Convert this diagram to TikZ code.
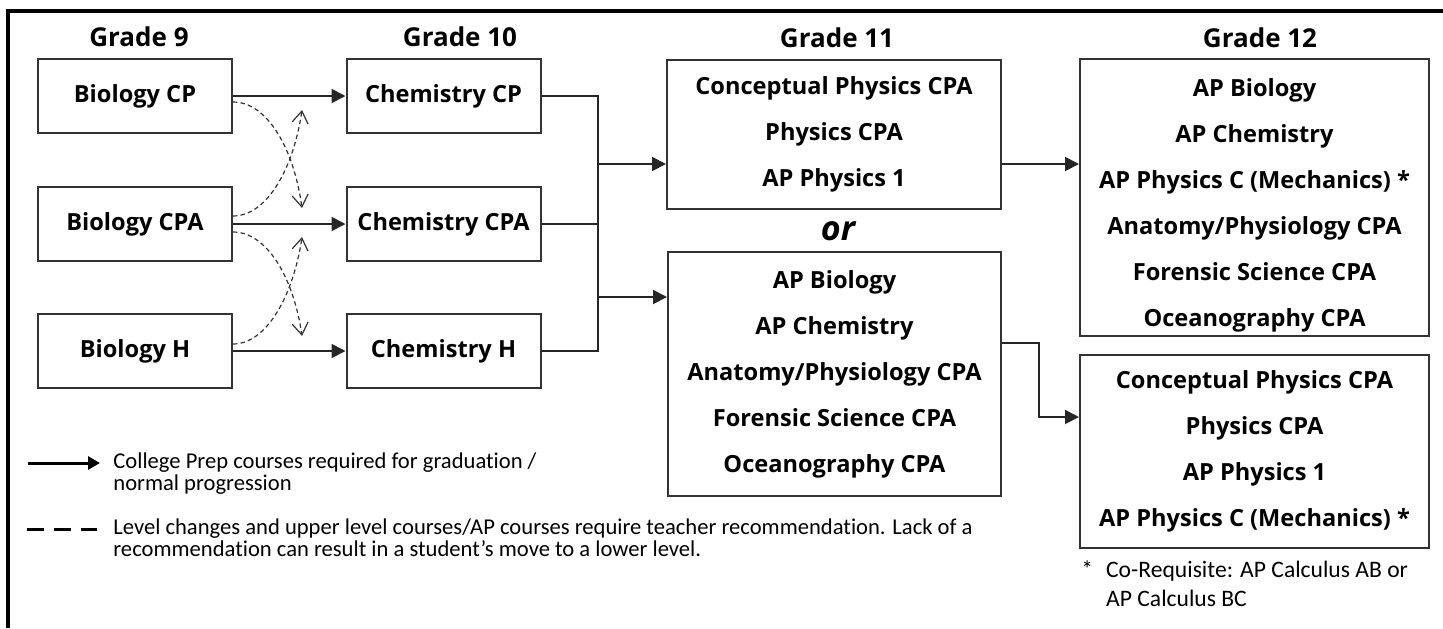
\documentclass[tikz,border=0pt]{standalone}
\usepackage{fontspec}
\setmainfont{Open Sans}
\newfontfamily\legendfont{Carlito}[Ligatures=NoCommon]
\usetikzlibrary{arrows.meta}

\begin{document}
\begin{tikzpicture}[x=0.5pt,y=-0.5pt,
	course/.style={draw=black!80,line width=1pt,align=center,inner sep=0pt,
		font=\bfseries\fontsize{11.8}{23}\selectfont},
	small course/.style={course,minimum width=97pt,minimum height=37pt},
	grade/.style={font=\bfseries\fontsize{13}{15}\selectfont},
	arr/.style={draw=black!85,line width=0.9pt,-{Triangle[length=7pt,width=7pt]}},
	link/.style={draw=black!85,line width=0.9pt},
	dasharr/.style={draw=black!80,line width=0.6pt,dash pattern=on 2.2pt off 1.6pt,
		-{Straight Barb[length=6pt,width=8pt]}},
	legend/.style={font=\legendfont\fontsize{11.3}{11}\selectfont,align=left,anchor=west,inner sep=0pt}]

\useasboundingbox (0,0) rectangle (1443,628);
\draw[line width=2pt] (8,628) -- (8,11) -- (1443,11);

% grade headings
\node[grade] (g9) at (139,37) {Grade 9};
\node[grade] (g10) at (460,37) {Grade 10};
\node[grade] (g11) at (837,38) {Grade 11};
\node[grade] (g12) at (1260,38) {Grade 12};

% grade 9 and 10
\node[small course] (bcp) at (135,96) {Biology CP};
\node[small course] (bcpa) at (135,224) {Biology CPA};
\node[small course] (bh) at (135,351) {Biology H};
\node[small course] (ccp) at (443.5,96) {Chemistry CP};
\node[small course] (ccpa) at (443.5,224) {Chemistry CPA};
\node[small course] (ch) at (443.5,351) {Chemistry H};

% grade 11
\node[course,minimum width=167pt,minimum height=74.5pt] (g11a) at (834,134.5)
	{Conceptual Physics CPA\\Physics CPA\\AP Physics 1};
\node[font=\bfseries\itshape\fontsize{17}{19}\selectfont] (or) at (838,231) {or};
\node[course,minimum width=166.5pt,minimum height=122pt] (g11b) at (834.5,374)
	{AP Biology\\AP Chemistry\\Anatomy/Physiology CPA\\Forensic Science CPA\\Oceanography CPA};

% grade 12
\node[course,minimum width=174.5pt,minimum height=138.5pt] (g12a) at (1254.5,197.5) {};
\node[course,draw=none] (g12atext) at (1254.5,205)
	{AP Biology\\AP Chemistry\\AP Physics C (Mechanics) *\\Anatomy/Physiology CPA\\Forensic Science CPA\\Oceanography CPA};
\node[course,minimum width=174.5pt,minimum height=96.5pt] (g12b) at (1254.5,451.5)
	{Conceptual Physics CPA\\Physics CPA\\AP Physics 1\\AP Physics C (Mechanics) *};

% normal progression
\draw[arr] (bcp) -- (ccp);
\draw[arr] (bcpa) -- (ccpa);
\draw[arr] (bh) -- (ch);

\coordinate (bus) at (598,96);
\coordinate (ja) at (598,164);
\coordinate (jb) at (598,297);
\draw[link] (ccp.east) -- (bus) |- (ch.east);
\draw[link] (ccpa.east) -- (ccpa.east -| bus);
\draw[arr] (ja) -- (ja -| g11a.west);
\draw[arr] (jb) -- (jb -| g11b.west);
\draw[arr] (g11a.east |- ja) -- (g12a.west |- ja);

\coordinate (kb) at (1039,343);
\coordinate (kc) at (1039,417);
\draw[arr] (g11b.east |- kb) -- (kb) -- (kc) -- (kc -| g12b.west);

% level changes
\coordinate (d1) at (302,208);
\coordinate (d2) at (302,110);
\coordinate (d3) at (302,336);
\coordinate (d4) at (302,237);
\draw[dasharr] ([yshift=-3pt]bcp.east) .. controls (268,102) and (294,150) .. (d1);
\draw[dasharr] ([yshift=4pt]bcpa.east) .. controls (268,216) and (294,166) .. (d2);
\draw[dasharr] ([yshift=-4pt]bcpa.east) .. controls (268,232) and (294,280) .. (d3);
\draw[dasharr] ([yshift=3.5pt]bh.east) .. controls (268,344) and (294,292) .. (d4);

% legend
\coordinate (ls1) at (28,463);
\coordinate (ls2) at (100,463);
\coordinate (ld1) at (27,529);
\coordinate (ld2) at (97,529);
\draw[line width=1.5pt,-{Triangle[length=6pt,width=6.5pt]}] (ls1) -- (ls2);
\draw[line width=1.5pt,dash pattern=on 8.5pt off 5pt] (ld1) -- (ld2);
\node[legend] (lsolid) at (113,474)
	{College Prep courses required for graduation /\\normal progression};
\node[legend] (ldash) at (113,538)
	{Level changes and upper level courses/AP courses require teacher recommendation. Lack of a\\recommendation can result in a student’s move to a lower level.};

% co-requisite note
\node[legend,font=\legendfont\fontsize{11.8}{14.5}\selectfont] (note) at (1081,586.5)
	{\begin{tabular}{@{}l@{\hspace{6.5pt}}l@{}}
	* & Co-Requisite: AP Calculus AB or\\
	  & AP Calculus BC
	\end{tabular}};
\end{tikzpicture}
\end{document}
